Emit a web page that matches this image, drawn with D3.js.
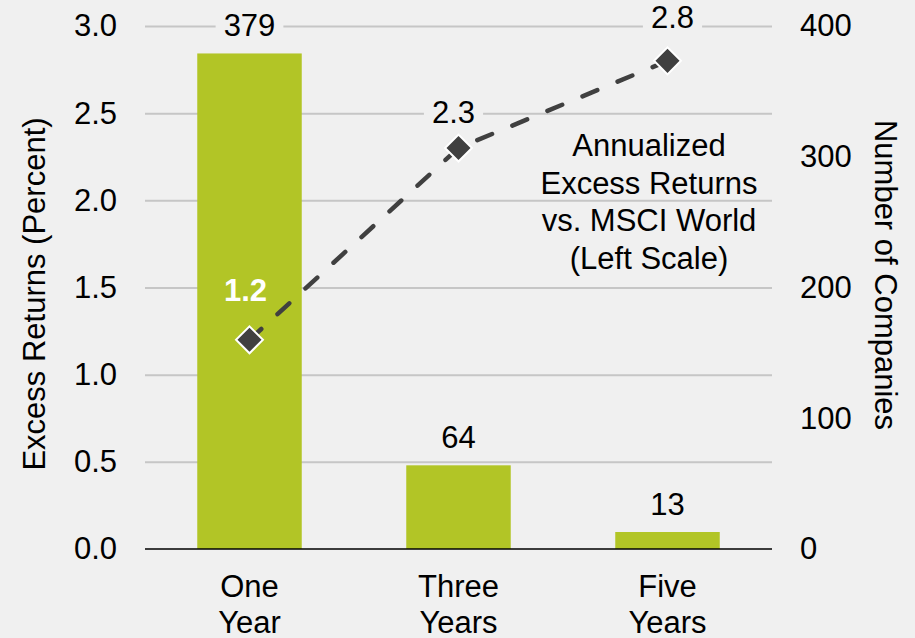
<!DOCTYPE html>
<html>
<head>
<meta charset="utf-8">
<script src="https://cdn.jsdelivr.net/npm/d3@7"></script>
<style>
  html, body { margin: 0; padding: 0; background: #f0f0f0; }
  svg { display: block; font-family: "Liberation Sans", Arial, sans-serif; }
</style>
</head>
<body>
<svg id="chart" width="915" height="638"></svg>
<script>
// ---- Data ----
const categories = ["One Year", "Three Years", "Five Years"];
const categoryLines = [["One", "Year"], ["Three", "Years"], ["Five", "Years"]];
const companies = [379, 64, 13];          // bars, right scale
const excessReturns = [1.2, 2.3, 2.8];    // line, left scale
const leftTicks = [0, 0.5, 1.0, 1.5, 2.0, 2.5, 3.0];
const rightTicks = [0, 100, 200, 300, 400];
const annotationLines = ["Annualized", "Excess Returns", "vs. MSCI World", "(Left Scale)"];
const leftTitle = "Excess Returns (Percent)";
const rightTitle = "Number of Companies";

// ---- Layout / style ----
const W = 915, H = 638;
const plot = { left: 145, right: 772, top: 26, bottom: 549 };
const FONT = 31;
const barColor = "#b2c526";
const lineColor = "#404040";
const gridColor = "#c6c6c6";
const bg = "#f0f0f0";
// small manual nudges for line labels (dx, dy relative to point)
const lineLabelNudge = [[-4, -39], [-5, -25], [5, -33]];

const svg = d3.select("#chart");
svg.append("rect").attr("width", W).attr("height", H).attr("fill", bg);

const x = d3.scaleBand().domain(categories).range([plot.left, plot.right])
  .paddingInner(0.5).paddingOuter(0.25);
const yL = d3.scaleLinear().domain([0, 3]).range([plot.bottom, plot.top]);
const yR = d3.scaleLinear().domain([0, 400]).range([plot.bottom, plot.top]);

// gridlines
const grid = svg.append("g").attr("transform", `translate(${plot.left},0)`)
  .call(d3.axisLeft(yL).tickValues(leftTicks.filter(d => d > 0))
    .tickSize(-(plot.right - plot.left)).tickFormat(""));
grid.select(".domain").remove();
grid.selectAll("line").attr("stroke", gridColor).attr("stroke-width", 2);

// bars
svg.append("g").selectAll("rect").data(companies).join("rect")
  .attr("x", (d, i) => x(categories[i]))
  .attr("width", x.bandwidth())
  .attr("y", d => yR(d))
  .attr("height", d => yR(0) - yR(d))
  .attr("fill", barColor);

// baseline
svg.append("line")
  .attr("x1", plot.left).attr("x2", plot.right)
  .attr("y1", yL(0)).attr("y2", yL(0))
  .attr("stroke", "#000").attr("stroke-width", 1.5);

// left axis labels
const axL = svg.append("g").attr("transform", `translate(${plot.left},0)`)
  .call(d3.axisLeft(yL).tickValues(leftTicks).tickSize(0).tickPadding(28).tickFormat(d3.format(".1f")));
axL.select(".domain").remove();
axL.selectAll("text").attr("font-size", FONT).attr("fill", "#000")
  .attr("font-family", "Liberation Sans, Arial, sans-serif");

// right axis labels
const axR = svg.append("g").attr("transform", `translate(${plot.right},0)`)
  .call(d3.axisRight(yR).tickValues(rightTicks).tickSize(0).tickPadding(28).tickFormat(d3.format("d")));
axR.select(".domain").remove();
axR.selectAll("text").attr("font-size", FONT).attr("fill", "#000")
  .attr("font-family", "Liberation Sans, Arial, sans-serif");

// category axis (two-line labels)
const axB = svg.append("g").attr("transform", `translate(0,${plot.bottom})`)
  .call(d3.axisBottom(x).tickSize(0).tickFormat(""));
axB.select(".domain").remove();
axB.selectAll(".tick").each(function(d, i) {
  const t = d3.select(this).append("text")
    .attr("text-anchor", "middle").attr("font-size", FONT).attr("fill", "#000")
    .attr("font-family", "Liberation Sans, Arial, sans-serif");
  categoryLines[i].forEach((ln, j) => {
    t.append("tspan").attr("x", 0).attr("y", 48 + j * 36).text(ln);
  });
});

// axis titles
svg.append("text")
  .attr("transform", `translate(45,294) rotate(-90)`)
  .attr("text-anchor", "middle").attr("font-size", FONT).attr("fill", "#000")
  .text(leftTitle);
svg.append("text")
  .attr("transform", `translate(875,275) rotate(90)`)
  .attr("text-anchor", "middle").attr("font-size", FONT).attr("fill", "#000")
  .text(rightTitle);

// dashed line
const cx = (d, i) => x(categories[i]) + x.bandwidth() / 2;
const line = d3.line().x((d, i) => cx(d, i)).y(d => yL(d));
svg.append("path").datum(excessReturns)
  .attr("d", line)
  .attr("fill", "none").attr("stroke", lineColor).attr("stroke-width", 4.5)
  .attr("stroke-dasharray", "16,22").attr("stroke-linecap", "round");

// diamonds
svg.append("g").selectAll("path").data(excessReturns).join("path")
  .attr("d", d3.symbol().type(d3.symbolSquare).size(19 * 19))
  .attr("transform", (d, i) => `translate(${cx(d, i)},${yL(d)}) rotate(45)`)
  .attr("fill", lineColor).attr("stroke", "#fff").attr("stroke-width", 2);

// label helper with background box
function label(g, tx, ty, txt, opts) {
  const t = g.append("text").attr("x", tx).attr("y", ty)
    .attr("text-anchor", "middle").attr("font-size", FONT)
    .attr("fill", opts.color || "#000")
    .attr("font-weight", opts.bold ? "bold" : "normal")
    .text(txt);
  if (opts.box) {
    const bb = t.node().getBBox();
    g.insert("rect", () => t.node())
      .attr("x", bb.x - 8).attr("y", bb.y + 2)
      .attr("width", bb.width + 16).attr("height", bb.height - 4)
      .attr("fill", bg);
  }
}

const labels = svg.append("g");
// bar labels
companies.forEach((v, i) => {
  label(labels, cx(v, i), yR(v) - 17, String(v), { box: true });
});
// line labels
excessReturns.forEach((v, i) => {
  const px = cx(v, i) + lineLabelNudge[i][0];
  const py = yL(v) + lineLabelNudge[i][1];
  const onBar = py > yR(companies[i]);
  label(labels, px, py, d3.format(".1f")(v),
    onBar ? { color: "#fff", bold: true } : { box: true });
});

// annotation
const ann = svg.append("text").attr("text-anchor", "middle")
  .attr("font-size", FONT).attr("fill", "#000");
annotationLines.forEach((ln, j) => {
  ann.append("tspan").attr("x", 649).attr("y", 156 + j * 37.7).text(ln);
});
</script>
</body>
</html>
